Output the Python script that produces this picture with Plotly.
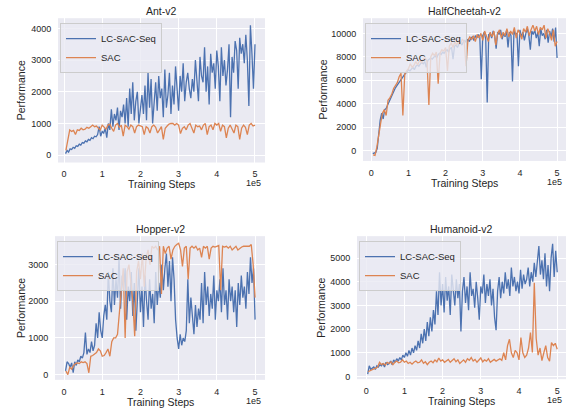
import plotly.graph_objects as go

# ---------------- data (training steps in units of env steps) ----------------
lc_steps = [4000 * i for i in range(1, 126)]
sac_steps = [5000 * i for i in range(1, 101)]

ant_lc = [50, 150, 100, 200, 180, 250, 220, 300, 280, 350,
          320, 400, 380, 450, 420, 500, 470, 550, 520, 600,
          580, 650, 900, 600, 750, 700, 850, 550, 1000, 800,
          1450, 900, 1300, 1100, 1500, 800, 1400, 1200, 1600, 1000,
          1800, 900, 2100, 1300, 2300, 1100, 1700, 2000, 1000, 1500,
          1900, 1300, 2200, 1100, 2600, 1500, 2400, 1000, 1800, 2300,
          1400, 2500, 1800, 2100, 1200, 2700, 1500, 1900, 2600, 1300,
          2200, 1600, 2800, 1900, 1400, 2500, 2000, 2900, 1700, 2300,
          2600, 2100, 1800, 2400, 2000, 3000, 2200, 1700, 3100, 2500,
          2300, 3400, 2000, 2800, 1600, 3200, 2600, 2900, 2100, 3300,
          2800, 1700, 3400, 2500, 3000, 2200, 2700, 3500, 1200, 3100,
          2600, 3600, 3300, 2100, 3700, 3200, 3500, 2900, 3800, 3000,
          1550, 4100, 3200, 2100, 3500]
ant_sac = [150, 500, 800, 750, 780, 650, 800, 780, 850, 800,
           820, 880, 850, 900, 950, 900, 920, 850, 800, 950,
           900, 820, 950, 980, 850, 750, 950, 1000, 880, 950,
           600, 950, 900, 820, 950, 900, 700, 900, 950, 920,
           900, 650, 900, 850, 700, 900, 950, 880, 700, 800,
           900, 500, 850, 920, 980, 1000, 1000, 950, 1000, 950,
           680, 850, 900, 800, 950, 1000, 850, 700, 950, 900,
           920, 800, 950, 1000, 650, 900, 950, 800, 1000, 950,
           1000, 750, 950, 900, 550, 850, 950, 800, 700, 950,
           900, 500, 850, 950, 880, 650, 950, 1000, 920, 950]

hc_lc = [-250, -200, -150, 200, 1800, 2600, 3200, 2700, 3500, 3600,
         3900, 4200, 4500, 4700, 5000, 5300, 5500, 5700, 5900, 6100,
         6300, 6400, 6600, 6700, 6900, 6800, 7000, 7100, 6900, 7200,
         7300, 7200, 7400, 7500, 7400, 7600, 7100, 7700, 7800, 7900,
         7800, 8000, 8100, 7900, 8200, 8300, 8200, 8400, 8300, 8500,
         8600, 8400, 8700, 8800, 7800, 8900, 9000, 8800, 9100, 9200,
         9000, 9300, 9400, 9200, 9500, 9300, 9600, 9700, 9400, 9800,
         9600, 9900, 9700, 6100, 9800, 10100, 9500, 4100, 9900, 10000,
         9600, 10200, 9800, 8700, 10100, 9900, 10300, 9500, 10000, 9700,
         10200, 8800, 10100, 9800, 5900, 10200, 9900, 10000, 7200, 10300,
         9700, 10100, 9400, 10000, 10400, 9800, 8600, 10200, 9900, 10300,
         9600, 10100, 8900, 10400, 9800, 10000, 9500, 10300, 9200, 10200,
         9700, 10400, 9300, 10500, 7900]
hc_sac = [-350, -400, 300, 1500, 2300, 3200, 3500, 3000, 4300, 4500,
          4800, 5300, 5500, 5800, 6300, 6600, 3000, 6500, 6800, 7000,
          7400, 7100, 7300, 7600, 7300, 7700, 7500, 7800, 7900, 7600,
          3900, 8000, 8300, 8100, 8400, 5700, 8300, 8600, 8500, 8800,
          6800, 8900, 9200, 8800, 9300, 9000, 9400, 9100, 9500, 9300,
          7200, 9400, 9700, 9500, 9800, 9300, 9900, 9600, 10000, 9400,
          10200, 9800, 9300, 10100, 9700, 10200, 9000, 10000, 10300, 9600,
          10100, 9800, 10400, 9700, 10200, 9900, 10500, 9600, 10300, 10000,
          9500, 10400, 10100, 10600, 9800, 10300, 10700, 10200, 10600, 9900,
          10500, 10300, 10700, 9600, 10400, 10000, 9400, 10300, 8900, 9300]

hop_lc = [100, 350, 300, 200, 320, 50, 350, 250, 400, 350,
          500, 450, 600, 1150, 550, 700, 600, 900, 650, 800,
          1400, 1000, 1700, 1200, 1000, 1600, 1900, 1500, 2800, 2000,
          1700, 2900, 1900, 2600, 2100, 3200, 1800, 2700, 2300, 2900,
          1500, 2400, 2000, 2800, 1600, 2500, 1200, 2200, 2900, 1700,
          2400, 1300, 2700, 2000, 1500, 2600, 1800, 2200, 1400, 2800,
          1900, 2500, 2100, 3000, 2300, 2900, 3300, 2400, 3100, 2000,
          3200, 2600, 1500, 1000, 700, 1100, 800, 1000, 900, 1200,
          2600, 1400, 2100, 1600, 1100, 1900, 1300, 1800, 1500, 2500,
          1400, 2800, 1900, 2400, 1600, 2200, 1800, 2700, 1500, 2300,
          2000, 2600, 1700, 2900, 1900, 2300, 1500, 2600, 2000, 2400,
          1700, 2300, 1300, 2500, 1900, 2700, 2100, 2400, 1800, 2800,
          2200, 3200, 2500, 2900, 1500]
hop_sac = [100, 0, 200, 150, 250, 300, 320, 300, 350, 330,
           350, 300, 50, 500, 520, 550, 600, 700, 650, 500,
           520, 600, 700, 500, 900, 1000, 1000, 1100, 1700, 2300,
           2900, 1000, 2800, 3000, 2500, 2000, 1050, 2800, 3100, 2600,
           3300, 2400, 3200, 3400, 3000, 3500, 3450, 3500, 3400, 3500,
           2200, 3500, 3300, 3450, 3500, 3150, 3400, 3500, 3550, 3580,
           3400, 2950, 3450, 3500, 2600, 3450, 3500, 3450, 3500, 3400,
           3450, 3200, 3500, 3450, 3500, 3150, 3450, 3500, 3480, 3500,
           3520, 2300, 3500, 3480, 3500, 3450, 3500, 3400, 3450, 3500,
           3400, 3450, 3480, 3500, 3500, 3520, 3500, 3550, 3000, 2100]

hum_lc = [100, 450, 300, 350, 400, 300, 450, 400, 500, 450,
          550, 400, 600, 500, 550, 650, 500, 700, 600, 750,
          650, 800, 700, 900, 800, 1000, 850, 1100, 900, 1200,
          1000, 1300, 1100, 1500, 1200, 1800, 1400, 2000, 1500, 2300,
          1700, 2500, 1900, 2800, 2200, 3600, 2600, 4400, 3000, 3900,
          2700, 4200, 3200, 3800, 2600, 4300, 3500, 3000, 4100, 3300,
          3900, 1900, 3600, 4200, 3100, 3800, 2800, 4400, 3400, 3700,
          2900, 4000, 3300, 2400, 3800, 3500, 4300, 3100, 3900, 3400,
          4100, 3000, 3700, 2500, 1950, 3600, 4200, 3300, 4000, 3500,
          4400, 3700, 4100, 3400, 4600, 3800, 4200, 3600, 4000, 3500,
          4500, 3700, 4300, 3900, 4100, 4600, 3800, 4400, 4000, 4800,
          4200, 5000, 5500, 4300, 4900, 4100, 5200, 3800, 4700, 3600,
          5000, 5600, 4200, 5300, 4400]
hum_sac = [200, 250, 280, 320, 350, 400, 600, 500, 550, 480,
           600, 550, 620, 500, 600, 650, 580, 600, 700, 600,
           650, 550, 600, 520, 600, 650, 580, 600, 700, 560,
           620, 500, 600, 650, 580, 700, 620, 780, 650, 700,
           600, 650, 720, 600, 680, 750, 620, 700, 550, 650,
           700, 600, 750, 680, 800, 650, 720, 600, 700, 780,
           620, 700, 650, 750, 600, 680, 720, 650, 700, 750,
           680, 1000, 700, 1300, 1570, 1000, 800, 1100, 1000, 700,
           1640, 1000, 800, 900, 1200, 1850, 1010, 3950, 1600, 900,
           1200, 670, 1000, 1300, 800, 650, 1430, 1300, 1400, 1150]

titles = ["Ant-v2", "HalfCheetah-v2", "Hopper-v2", "Humanoid-v2"]
series_names = ["LC-SAC-Seq", "SAC"]
x_tick_vals = [0, 100000, 200000, 300000, 400000, 500000]
x_tick_text = ["0", "1", "2", "3", "4", "5"]
y_ticks = [
    [0, 1000, 2000, 3000, 4000],
    [0, 2000, 4000, 6000, 8000, 10000],
    [0, 1000, 2000, 3000],
    [0, 1000, 2000, 3000, 4000, 5000],
]
lc_data = [ant_lc, hc_lc, hop_lc, hum_lc]
sac_data = [ant_sac, hc_sac, hop_sac, hum_sac]

# ---------------- layout geometry (pixels) ----------------
W, H = 577, 413
# left, right, top, bottom of each plot area
boxes = [(58, 265, 18.3, 163.3), (363, 566, 18.3, 161.7),
         (55, 265, 237.3, 381.7), (357, 566, 237.3, 381)]
ylabel_x = [21, 323, 21, 321]
x_ranges = [[-15700, 526200], [-22300, 524000], [-23600, 526000], [-24000, 523000]]
y_ranges = [[-230, 4320], [-870, 11290], [-143, 3776], [-113, 5922]]

BLUE = "#4C72B0"
ORANGE = "#DD8452"
BG = "#EAEAF2"
TXT = "#262626"
FONT = "Liberation Sans, Arial, sans-serif"


def px(x, y):
    return x / W, 1 - y / H


fig = go.Figure()
layout = dict(
    width=W, height=H, margin=dict(l=0, r=0, t=0, b=0),
    paper_bgcolor="white", plot_bgcolor=BG,
    font=dict(family=FONT, color=TXT, size=9),
    annotations=[],
)


def note(text, x, y, size, xanchor="center", yanchor="middle", angle=0):
    ax, ay = px(x, y)
    layout["annotations"].append(dict(text=text, x=ax, y=ay, xref="paper", yref="paper",
                                      xanchor=xanchor, yanchor=yanchor, textangle=angle,
                                      showarrow=False, font=dict(size=size, color=TXT)))


for i in range(4):
    sfx = "" if i == 0 else str(i + 1)
    leg = "legend" if i == 0 else "legend" + str(i + 1)
    fig.add_trace(go.Scatter(x=lc_steps, y=lc_data[i], mode="lines", name=series_names[0],
                             line=dict(color=BLUE, width=1.3), xaxis="x" + sfx, yaxis="y" + sfx,
                             legend=leg))
    fig.add_trace(go.Scatter(x=sac_steps, y=sac_data[i], mode="lines", name=series_names[1],
                             line=dict(color=ORANGE, width=1.3), xaxis="x" + sfx, yaxis="y" + sfx,
                             legend=leg))
    l, r, t, b = boxes[i]
    layout["xaxis" + sfx] = dict(
        domain=[l / W, r / W], range=x_ranges[i], anchor="y" + sfx,
        tickvals=x_tick_vals, ticktext=x_tick_text, showgrid=True, gridcolor="white",
        gridwidth=1, zeroline=False, showline=False, ticks="outside", ticklen=3,
        tickcolor="rgba(0,0,0,0)", tickfont=dict(size=9, color=TXT),
    )
    layout["yaxis" + sfx] = dict(
        domain=[1 - b / H, 1 - t / H], range=y_ranges[i], anchor="x" + sfx,
        tickvals=y_ticks[i], ticktext=[str(v) for v in y_ticks[i]],
        showgrid=True, gridcolor="white", gridwidth=1,
        zeroline=False, showline=False, ticks="outside", ticklen=4,
        tickcolor="rgba(0,0,0,0)", tickfont=dict(size=9, color=TXT),
    )
    lx, ly = px(l + 2, t + 5)
    layout[leg] = dict(
        x=lx, y=ly, xanchor="left", yanchor="top", xref="paper", yref="paper",
        bgcolor="rgba(234,234,242,0.8)", bordercolor="#CCCCCC", borderwidth=1,
        font=dict(size=9.5, color=TXT), itemwidth=30, tracegroupgap=0,
    )
    cx = (l + r) / 2
    cy = (t + b) / 2
    note(titles[i], cx, t - 7.5, 10.5)
    note("Training Steps", cx, b + 22, 10.5)
    note("1e5", r - 2, b + 21, 9, xanchor="right")
    note("Performance", ylabel_x[i], cy, 10.5, angle=-90)

fig.update_layout(**layout)
fig.write_html("out.html", config={"displayModeBar": False},
               post_script="document.body.style.margin='0';")
